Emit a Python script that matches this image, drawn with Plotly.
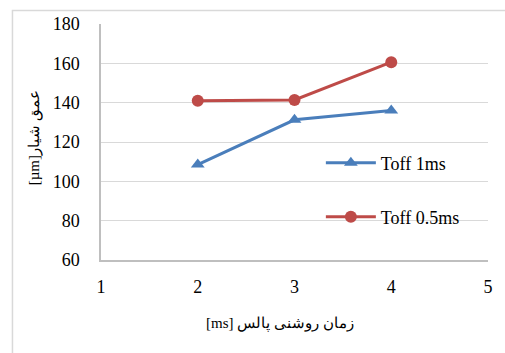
import plotly.graph_objects as go

# Pulse on-time (ms) and groove depth (µm) for two off-times
pulse_on = [2, 3, 4]
depth_toff_1ms = [108.5, 131.3, 136.0]
depth_toff_05ms = [141.0, 141.4, 160.6]

series_names = ["Toff 1ms", "Toff 0.5ms"]
x_ticks = [1, 2, 3, 4, 5]
y_ticks = [60, 80, 100, 120, 140, 160, 180]

# Right-to-left embedding keeps the bracketed unit on the left of the Persian text
RLE, PDF = "\u202b", "\u202c"
x_title = RLE + "زمان روشنی پالس [ms]" + PDF
y_title = RLE + "عمق شیار[µm]" + PDF

BLUE = "#4a7ebb"
RED = "#be4b48"
GRID = "#d9d9d9"
AXIS = "#bfbfbf"
SERIF = "Liberation Serif"

W, H = 505, 353
L, R, T, B = 101, 15, 24, 93
PW, PH = W - L - R, H - T - B


def px_to_paper_x(px):
    return (px - L) / PW


def px_to_paper_y(py):
    return (H - B - py) / PH


fig = go.Figure()
fig.add_trace(go.Scatter(
    x=pulse_on, y=depth_toff_1ms, name=series_names[0], mode="lines+markers",
    line=dict(color=BLUE, width=3),
    marker=dict(symbol="triangle-up", size=12, color=BLUE),
    legend="legend",
))
fig.add_trace(go.Scatter(
    x=pulse_on, y=depth_toff_05ms, name=series_names[1], mode="lines+markers",
    line=dict(color=RED, width=3),
    marker=dict(symbol="circle", size=12, color=RED),
    legend="legend2",
))

legend_common = dict(
    xanchor="left", yanchor="middle", bgcolor="rgba(0,0,0,0)",
    font=dict(family=SERIF, size=18, color="#000000"),
    itemwidth=50, borderwidth=0,
)

fig.update_layout(
    width=W, height=H,
    margin=dict(l=L, r=R, t=T, b=B),
    paper_bgcolor="white", plot_bgcolor="white",
    font=dict(family=SERIF, size=18, color="#000000"),
    showlegend=True,
    legend=dict(x=px_to_paper_x(322), y=px_to_paper_y(163), **legend_common),
    legend2=dict(x=px_to_paper_x(322), y=px_to_paper_y(217), **legend_common),
    hovermode=False,
    xaxis=dict(
        range=[1, 5], tickvals=x_ticks, showgrid=False, zeroline=False,
        showline=True, linecolor=AXIS, linewidth=1.5,
        ticks="", ticklabelstandoff=10,
        tickfont=dict(family=SERIF, size=18, color="#000000"),
    ),
    yaxis=dict(
        range=[60, 180], tickvals=y_ticks, showgrid=True, gridcolor=GRID,
        gridwidth=1.3, zeroline=False,
        showline=True, linecolor=AXIS, linewidth=1.5,
        ticks="", ticklabelstandoff=16,
        tickfont=dict(family=SERIF, size=18, color="#000000"),
    ),
    annotations=[
        dict(text=x_title, xref="paper", yref="paper",
             x=px_to_paper_x(281), y=px_to_paper_y(323),
             xanchor="center", yanchor="middle", showarrow=False,
             font=dict(family=SERIF, size=15, color="#000000")),
        dict(text=y_title, xref="paper", yref="paper",
             x=px_to_paper_x(34), y=px_to_paper_y(138),
             xanchor="center", yanchor="middle", showarrow=False, textangle=-90,
             font=dict(family=SERIF, size=15, color="#000000")),
    ],
    shapes=[
        dict(type="rect", xref="paper", yref="paper",
             x0=px_to_paper_x(12), x1=px_to_paper_x(520),
             y0=px_to_paper_y(370), y1=px_to_paper_y(10.5),
             line=dict(color=GRID, width=1.5), layer="below"),
    ],
)

fig.write_html("out.html")
